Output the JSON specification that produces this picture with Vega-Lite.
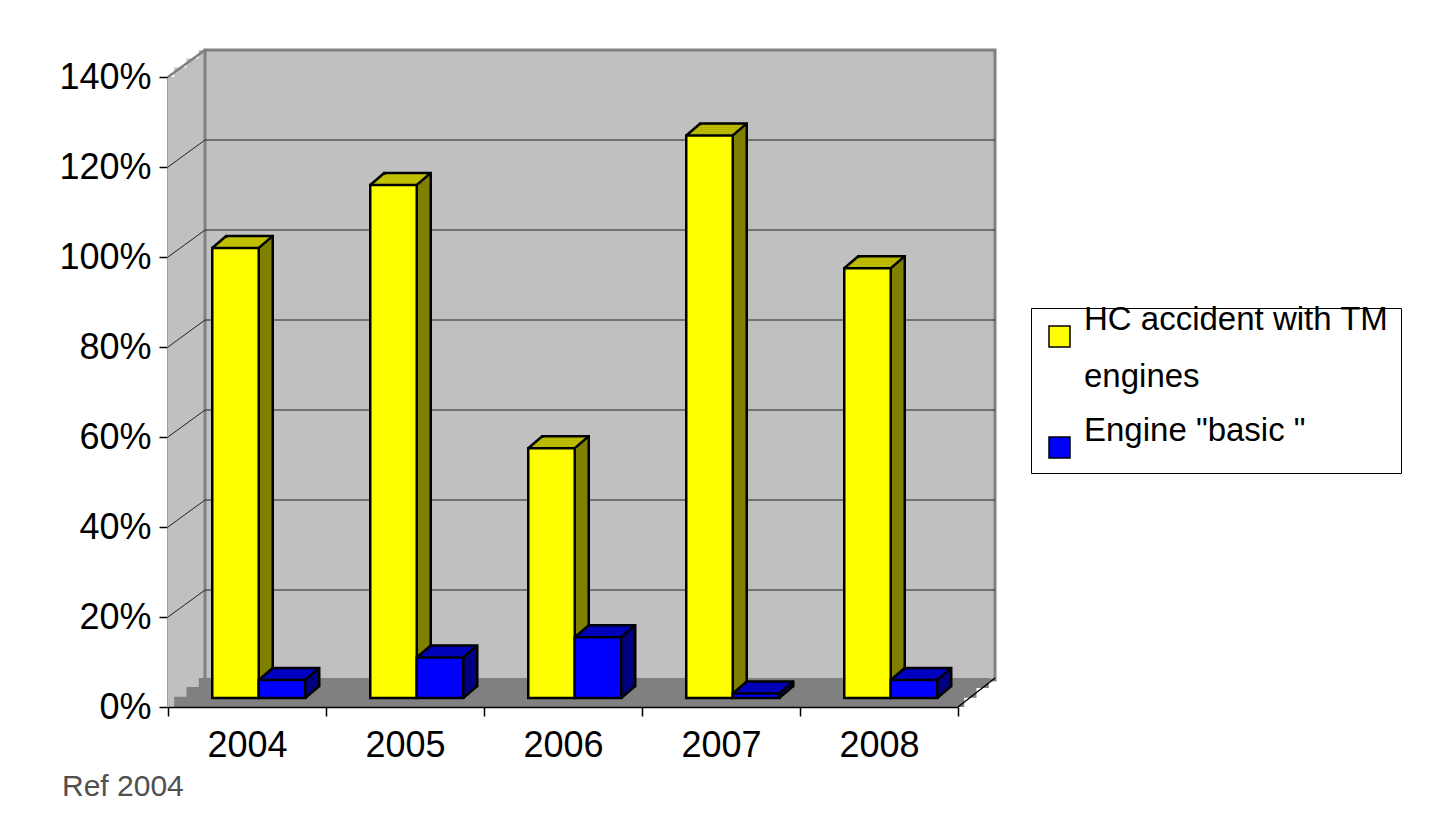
{
"$schema": "https://vega.github.io/schema/vega-lite/v6.json",
"width": 790, "height": 630,
"autosize": {"type": "none"},
"padding": {"left": 168, "top": 77, "right": 487, "bottom": 112},
"background": "white",
"title": {"text": "Ref 2004", "orient": "bottom", "anchor": "start", "frame": "group", "fontSize": 30, "fontWeight": "normal", "color": "#505050", "font": "Liberation Sans", "dx": -106, "offset": 9},
"config": {"view": {"stroke": null}, "font": "Liberation Sans"},
"datasets": {
 "bars": [
  {"year": "2004", "series": "HC accident with TM engines", "v": 1.0},
  {"year": "2005", "series": "HC accident with TM engines", "v": 1.14},
  {"year": "2006", "series": "HC accident with TM engines", "v": 0.555},
  {"year": "2007", "series": "HC accident with TM engines", "v": 1.25},
  {"year": "2008", "series": "HC accident with TM engines", "v": 0.955},
  {"year": "2004", "series": "Engine \"basic \"", "v": 0.04},
  {"year": "2005", "series": "Engine \"basic \"", "v": 0.09},
  {"year": "2006", "series": "Engine \"basic \"", "v": 0.135},
  {"year": "2007", "series": "Engine \"basic \"", "v": 0.01},
  {"year": "2008", "series": "Engine \"basic \"", "v": 0.04}
 ],
 "grid": [{"g": 0.2}, {"g": 0.4}, {"g": 0.6}, {"g": 0.8}, {"g": 1.0}, {"g": 1.2}],
 "one": [{}]
},
"data": {"name": "bars"},
"layer": [
   {"data": {"name": "one"}, "mark": {"type": "rect", "fill": "#c0c0c0", "x2Offset": 37},
    "encoding": {
     "x": {"datum": "2004", "type": "nominal", "bandPosition": 0, "scale": {"paddingInner": 0, "paddingOuter": 0}, "axis": {"title": null, "labelAngle": 0, "labelFontSize": 36, "labelFont": "Liberation Sans", "labelColor": "black", "labelPadding": 12, "tickSize": 9, "tickColor": "black", "tickWidth": 1.5, "domainColor": "black", "domainWidth": 1.5, "tickBand": "extent", "grid": false}},
     "x2": {"datum": "2004", "bandPosition": 0},
     "y": {"datum": 0, "type": "quantitative", "scale": {"domain": [0, 1.4], "nice": false}, "axis": {"title": null, "format": ".0%", "values": [0, 0.2, 0.4, 0.6, 0.8, 1.0, 1.2, 1.4], "labelFontSize": 36, "labelFont": "Liberation Sans", "labelColor": "black", "labelPadding": 8, "tickSize": 9, "tickColor": "black", "tickWidth": 1.5, "domainColor": "#808080", "domainWidth": 2.5, "grid": false}},
     "y2": {"datum": 1.4}}},
   {"data": {"name": "one"}, "mark": {"type": "rect", "fill": "#c0c0c0", "xOffset": 6.2, "x2Offset": 37, "yOffset": -9.5, "y2Offset": 0.5},
    "encoding": {"x": {"datum": "2004", "type": "nominal", "bandPosition": 0}, "x2": {"datum": "2004", "bandPosition": 0}, "y": {"datum": 1.4, "type": "quantitative"}, "y2": {"datum": 1.4}}},
   {"data": {"name": "one"}, "mark": {"type": "rect", "fill": "#c0c0c0", "xOffset": 18.5, "x2Offset": 37, "yOffset": -18.5, "y2Offset": -8.5},
    "encoding": {"x": {"datum": "2004", "type": "nominal", "bandPosition": 0}, "x2": {"datum": "2004", "bandPosition": 0}, "y": {"datum": 1.4, "type": "quantitative"}, "y2": {"datum": 1.4}}},
   {"data": {"name": "one"}, "mark": {"type": "rect", "fill": "#c0c0c0", "xOffset": 30.8, "x2Offset": 37, "yOffset": -27, "y2Offset": -17.5},
    "encoding": {"x": {"datum": "2004", "type": "nominal", "bandPosition": 0}, "x2": {"datum": "2004", "bandPosition": 0}, "y": {"datum": 1.4, "type": "quantitative"}, "y2": {"datum": 1.4}}},
   {"data": {"name": "one"}, "mark": {"type": "rect", "fill": "#c0c0c0", "stroke": "#808080", "strokeWidth": 3, "xOffset": 37, "x2Offset": 37, "yOffset": -27, "y2Offset": -27},
    "encoding": {"x": {"datum": "2004", "type": "nominal", "bandPosition": 0}, "x2": {"datum": "2008", "bandPosition": 1}, "y": {"datum": 0, "type": "quantitative"}, "y2": {"datum": 1.4}}},
   {"data": {"name": "one"}, "mark": {"type": "rect", "fill": "#808080", "xOffset": 6.2, "x2Offset": 6.2, "yOffset": -10.2, "y2Offset": 0},
    "encoding": {"x": {"datum": "2004", "type": "nominal", "bandPosition": 0}, "x2": {"datum": "2008", "bandPosition": 1}, "y": {"datum": 0, "type": "quantitative"}, "y2": {"datum": 0}}},
   {"data": {"name": "one"}, "mark": {"type": "rect", "fill": "#808080", "xOffset": 18.5, "x2Offset": 18.5, "yOffset": -19.9, "y2Offset": -9.2},
    "encoding": {"x": {"datum": "2004", "type": "nominal", "bandPosition": 0}, "x2": {"datum": "2008", "bandPosition": 1}, "y": {"datum": 0, "type": "quantitative"}, "y2": {"datum": 0}}},
   {"data": {"name": "one"}, "mark": {"type": "rect", "fill": "#808080", "xOffset": 30.8, "x2Offset": 30.8, "yOffset": -29, "y2Offset": -18.9},
    "encoding": {"x": {"datum": "2004", "type": "nominal", "bandPosition": 0}, "x2": {"datum": "2008", "bandPosition": 1}, "y": {"datum": 0, "type": "quantitative"}, "y2": {"datum": 0}}},
   {"data": {"name": "grid"},
    "mark": {"type": "rule", "color": "#222222", "strokeWidth": 1, "xOffset": 37, "x2Offset": 37, "yOffset": -27},
    "encoding": {"x": {"datum": "2004", "type": "nominal", "bandPosition": 0}, "x2": {"datum": "2008", "bandPosition": 1}, "y": {"field": "g", "type": "quantitative"}}},
   {"data": {"name": "grid"},
    "mark": {"type": "rule", "color": "#222222", "strokeWidth": 1, "x2Offset": 37, "y2Offset": -27},
    "encoding": {"x": {"datum": "2004", "type": "nominal", "bandPosition": 0}, "x2": {"datum": "2004", "bandPosition": 0}, "y": {"field": "g", "type": "quantitative"}, "y2": {"field": "g"}}},
   {"data": {"name": "one"}, "mark": {"type": "rule", "color": "#808080", "strokeWidth": 2.5, "x2Offset": 37, "y2Offset": -27},
    "encoding": {"x": {"datum": "2004", "type": "nominal", "bandPosition": 0}, "x2": {"datum": "2004", "bandPosition": 0}, "y": {"datum": 1.4, "type": "quantitative"}, "y2": {"datum": 1.4}}},
   {"data": {"name": "one"}, "mark": {"type": "rule", "color": "#000000", "strokeWidth": 1.5, "x2Offset": 37, "y2Offset": -29},
    "encoding": {"x": {"datum": "2008", "type": "nominal", "bandPosition": 1}, "x2": {"datum": "2008", "bandPosition": 1}, "y": {"datum": 0, "type": "quantitative"}, "y2": {"datum": 0}}},

    {"transform": [{"filter": "datum.series == 'HC accident with TM engines'"}], "mark": {"type": "bar", "width": 46.5, "fill": "#808000", "xOffset": 2.5, "yOffset": -21, "y2Offset": -21},
     "encoding": {"x": {"field": "year", "type": "nominal"}, "y": {"field": "v", "type": "quantitative"}, "y2": {"datum": 0}}},
    {"transform": [{"filter": "datum.series == 'HC accident with TM engines'"}], "mark": {"type": "bar", "width": 46.5, "fill": "#c0c000", "xOffset": 2.5, "yOffset": -21, "y2Offset": -18.5},
     "encoding": {"x": {"field": "year", "type": "nominal"}, "y": {"field": "v", "type": "quantitative"}, "y2": {"field": "v"}}},
    {"transform": [{"filter": "datum.series == 'HC accident with TM engines'"}], "mark": {"type": "bar", "width": 46.5, "fillOpacity": 0, "stroke": "black", "strokeWidth": 2.5, "xOffset": 2.5, "yOffset": -21, "y2Offset": -21},
     "encoding": {"x": {"field": "year", "type": "nominal"}, "y": {"field": "v", "type": "quantitative"}, "y2": {"datum": 0}}},
    {"transform": [{"filter": "datum.series == 'HC accident with TM engines'"}], "mark": {"type": "bar", "width": 46.5, "fill": "#808000", "xOffset": 0.17, "yOffset": -19, "y2Offset": -19},
     "encoding": {"x": {"field": "year", "type": "nominal"}, "y": {"field": "v", "type": "quantitative"}, "y2": {"datum": 0}}},
    {"transform": [{"filter": "datum.series == 'HC accident with TM engines'"}], "mark": {"type": "bar", "width": 46.5, "fill": "#c0c000", "xOffset": 0.17, "yOffset": -19, "y2Offset": -16.5},
     "encoding": {"x": {"field": "year", "type": "nominal"}, "y": {"field": "v", "type": "quantitative"}, "y2": {"field": "v"}}},
    {"transform": [{"filter": "datum.series == 'HC accident with TM engines'"}], "mark": {"type": "bar", "width": 46.5, "fill": "#808000", "xOffset": -2.17, "yOffset": -17, "y2Offset": -17},
     "encoding": {"x": {"field": "year", "type": "nominal"}, "y": {"field": "v", "type": "quantitative"}, "y2": {"datum": 0}}},
    {"transform": [{"filter": "datum.series == 'HC accident with TM engines'"}], "mark": {"type": "bar", "width": 46.5, "fill": "#c0c000", "xOffset": -2.17, "yOffset": -17, "y2Offset": -14.5},
     "encoding": {"x": {"field": "year", "type": "nominal"}, "y": {"field": "v", "type": "quantitative"}, "y2": {"field": "v"}}},
    {"transform": [{"filter": "datum.series == 'HC accident with TM engines'"}], "mark": {"type": "bar", "width": 46.5, "fill": "#808000", "xOffset": -4.5, "yOffset": -15, "y2Offset": -15},
     "encoding": {"x": {"field": "year", "type": "nominal"}, "y": {"field": "v", "type": "quantitative"}, "y2": {"datum": 0}}},
    {"transform": [{"filter": "datum.series == 'HC accident with TM engines'"}], "mark": {"type": "bar", "width": 46.5, "fill": "#c0c000", "xOffset": -4.5, "yOffset": -15, "y2Offset": -12.5},
     "encoding": {"x": {"field": "year", "type": "nominal"}, "y": {"field": "v", "type": "quantitative"}, "y2": {"field": "v"}}},
    {"transform": [{"filter": "datum.series == 'HC accident with TM engines'"}], "mark": {"type": "bar", "width": 46.5, "fill": "#808000", "xOffset": -6.83, "yOffset": -13, "y2Offset": -13},
     "encoding": {"x": {"field": "year", "type": "nominal"}, "y": {"field": "v", "type": "quantitative"}, "y2": {"datum": 0}}},
    {"transform": [{"filter": "datum.series == 'HC accident with TM engines'"}], "mark": {"type": "bar", "width": 46.5, "fill": "#c0c000", "xOffset": -6.83, "yOffset": -13, "y2Offset": -10.5},
     "encoding": {"x": {"field": "year", "type": "nominal"}, "y": {"field": "v", "type": "quantitative"}, "y2": {"field": "v"}}},
    {"transform": [{"filter": "datum.series == 'HC accident with TM engines'"}], "mark": {"type": "bar", "width": 46.5, "fill": "#808000", "xOffset": -9.17, "yOffset": -11, "y2Offset": -11},
     "encoding": {"x": {"field": "year", "type": "nominal"}, "y": {"field": "v", "type": "quantitative"}, "y2": {"datum": 0}}},
    {"transform": [{"filter": "datum.series == 'HC accident with TM engines'"}], "mark": {"type": "bar", "width": 46.5, "fill": "#c0c000", "xOffset": -9.17, "yOffset": -11, "y2Offset": -8.5},
     "encoding": {"x": {"field": "year", "type": "nominal"}, "y": {"field": "v", "type": "quantitative"}, "y2": {"field": "v"}}},
    {"transform": [{"filter": "datum.series == 'HC accident with TM engines'"}], "mark": {"type": "bar", "width": 46.5, "stroke": "black", "strokeWidth": 2.5, "xOffset": -11.5, "yOffset": -9, "y2Offset": -9},
     "encoding": {
      "x": {"field": "year", "type": "nominal"},
      "y": {"field": "v", "type": "quantitative"},
      "y2": {"datum": 0},
      "color": {"field": "series", "type": "nominal", "scale": {"domain": ["HC accident with TM engines", "Engine \"basic \""], "range": ["#ffff00", "#0000ff"]},
       "legend": {"title": null, "orient": "none", "legendX": 863, "legendY": 231, "direction": "vertical", "symbolType": "square", "symbolSize": 441, "symbolStrokeColor": "black", "symbolStrokeWidth": 1.5, "labelFontSize": 33, "labelFont": "Liberation Sans", "labelColor": "black", "labelLimit": 1000, "labelBaseline": "bottom", "labelExpr": "datum.value == 'HC accident with TM engines' ? ['HC accident with TM', 'engines'] : datum.label", "strokeColor": "black", "fillColor": "white", "padding": 12, "rowPadding": 20, "labelOffset": 8,
        "encode": {"labels": {"update": {"lineHeight": {"value": 57}}}}}}}},
    {"transform": [{"filter": "datum.series == 'HC accident with TM engines'"}], "mark": {"type": "rule", "color": "black", "strokeWidth": 2.5, "xOffset": -34.75, "x2Offset": -20.75, "yOffset": -9, "y2Offset": -21},
     "encoding": {"x": {"field": "year", "type": "nominal"}, "x2": {"field": "year"}, "y": {"field": "v", "type": "quantitative"}, "y2": {"field": "v"}}},
    {"transform": [{"filter": "datum.series == 'HC accident with TM engines'"}], "mark": {"type": "rule", "color": "black", "strokeWidth": 2.5, "xOffset": 11.75, "x2Offset": 25.75, "yOffset": -9, "y2Offset": -21},
     "encoding": {"x": {"field": "year", "type": "nominal"}, "x2": {"field": "year"}, "y": {"field": "v", "type": "quantitative"}, "y2": {"field": "v"}}},

    {"transform": [{"filter": "datum.series != 'HC accident with TM engines'"}], "mark": {"type": "bar", "width": 46.5, "fill": "#000080", "xOffset": 49, "yOffset": -21, "y2Offset": -21},
     "encoding": {"x": {"field": "year", "type": "nominal"}, "y": {"field": "v", "type": "quantitative"}, "y2": {"datum": 0}}},
    {"transform": [{"filter": "datum.series != 'HC accident with TM engines'"}], "mark": {"type": "bar", "width": 46.5, "fill": "#0000c0", "xOffset": 49, "yOffset": -21, "y2Offset": -18.5},
     "encoding": {"x": {"field": "year", "type": "nominal"}, "y": {"field": "v", "type": "quantitative"}, "y2": {"field": "v"}}},
    {"transform": [{"filter": "datum.series != 'HC accident with TM engines'"}], "mark": {"type": "bar", "width": 46.5, "fillOpacity": 0, "stroke": "black", "strokeWidth": 2.5, "xOffset": 49, "yOffset": -21, "y2Offset": -21},
     "encoding": {"x": {"field": "year", "type": "nominal"}, "y": {"field": "v", "type": "quantitative"}, "y2": {"datum": 0}}},
    {"transform": [{"filter": "datum.series != 'HC accident with TM engines'"}], "mark": {"type": "bar", "width": 46.5, "fill": "#000080", "xOffset": 46.67, "yOffset": -19, "y2Offset": -19},
     "encoding": {"x": {"field": "year", "type": "nominal"}, "y": {"field": "v", "type": "quantitative"}, "y2": {"datum": 0}}},
    {"transform": [{"filter": "datum.series != 'HC accident with TM engines'"}], "mark": {"type": "bar", "width": 46.5, "fill": "#0000c0", "xOffset": 46.67, "yOffset": -19, "y2Offset": -16.5},
     "encoding": {"x": {"field": "year", "type": "nominal"}, "y": {"field": "v", "type": "quantitative"}, "y2": {"field": "v"}}},
    {"transform": [{"filter": "datum.series != 'HC accident with TM engines'"}], "mark": {"type": "bar", "width": 46.5, "fill": "#000080", "xOffset": 44.33, "yOffset": -17, "y2Offset": -17},
     "encoding": {"x": {"field": "year", "type": "nominal"}, "y": {"field": "v", "type": "quantitative"}, "y2": {"datum": 0}}},
    {"transform": [{"filter": "datum.series != 'HC accident with TM engines'"}], "mark": {"type": "bar", "width": 46.5, "fill": "#0000c0", "xOffset": 44.33, "yOffset": -17, "y2Offset": -14.5},
     "encoding": {"x": {"field": "year", "type": "nominal"}, "y": {"field": "v", "type": "quantitative"}, "y2": {"field": "v"}}},
    {"transform": [{"filter": "datum.series != 'HC accident with TM engines'"}], "mark": {"type": "bar", "width": 46.5, "fill": "#000080", "xOffset": 42, "yOffset": -15, "y2Offset": -15},
     "encoding": {"x": {"field": "year", "type": "nominal"}, "y": {"field": "v", "type": "quantitative"}, "y2": {"datum": 0}}},
    {"transform": [{"filter": "datum.series != 'HC accident with TM engines'"}], "mark": {"type": "bar", "width": 46.5, "fill": "#0000c0", "xOffset": 42, "yOffset": -15, "y2Offset": -12.5},
     "encoding": {"x": {"field": "year", "type": "nominal"}, "y": {"field": "v", "type": "quantitative"}, "y2": {"field": "v"}}},
    {"transform": [{"filter": "datum.series != 'HC accident with TM engines'"}], "mark": {"type": "bar", "width": 46.5, "fill": "#000080", "xOffset": 39.67, "yOffset": -13, "y2Offset": -13},
     "encoding": {"x": {"field": "year", "type": "nominal"}, "y": {"field": "v", "type": "quantitative"}, "y2": {"datum": 0}}},
    {"transform": [{"filter": "datum.series != 'HC accident with TM engines'"}], "mark": {"type": "bar", "width": 46.5, "fill": "#0000c0", "xOffset": 39.67, "yOffset": -13, "y2Offset": -10.5},
     "encoding": {"x": {"field": "year", "type": "nominal"}, "y": {"field": "v", "type": "quantitative"}, "y2": {"field": "v"}}},
    {"transform": [{"filter": "datum.series != 'HC accident with TM engines'"}], "mark": {"type": "bar", "width": 46.5, "fill": "#000080", "xOffset": 37.33, "yOffset": -11, "y2Offset": -11},
     "encoding": {"x": {"field": "year", "type": "nominal"}, "y": {"field": "v", "type": "quantitative"}, "y2": {"datum": 0}}},
    {"transform": [{"filter": "datum.series != 'HC accident with TM engines'"}], "mark": {"type": "bar", "width": 46.5, "fill": "#0000c0", "xOffset": 37.33, "yOffset": -11, "y2Offset": -8.5},
     "encoding": {"x": {"field": "year", "type": "nominal"}, "y": {"field": "v", "type": "quantitative"}, "y2": {"field": "v"}}},
    {"transform": [{"filter": "datum.series != 'HC accident with TM engines'"}], "mark": {"type": "bar", "width": 46.5, "fill": "#0000ff", "stroke": "black", "strokeWidth": 2.5, "xOffset": 35, "yOffset": -9, "y2Offset": -9},
     "encoding": {"x": {"field": "year", "type": "nominal"}, "y": {"field": "v", "type": "quantitative"}, "y2": {"datum": 0}}},
    {"transform": [{"filter": "datum.series != 'HC accident with TM engines'"}], "mark": {"type": "rule", "color": "black", "strokeWidth": 2.5, "xOffset": 11.75, "x2Offset": 25.75, "yOffset": -9, "y2Offset": -21},
     "encoding": {"x": {"field": "year", "type": "nominal"}, "x2": {"field": "year"}, "y": {"field": "v", "type": "quantitative"}, "y2": {"field": "v"}}},
    {"transform": [{"filter": "datum.series != 'HC accident with TM engines'"}], "mark": {"type": "rule", "color": "black", "strokeWidth": 2.5, "xOffset": 58.25, "x2Offset": 72.25, "yOffset": -9, "y2Offset": -21},
     "encoding": {"x": {"field": "year", "type": "nominal"}, "x2": {"field": "year"}, "y": {"field": "v", "type": "quantitative"}, "y2": {"field": "v"}}},
    {"transform": [{"filter": "datum.series != 'HC accident with TM engines'"}], "mark": {"type": "rule", "color": "black", "strokeWidth": 2.5, "xOffset": 58.25, "x2Offset": 72.25, "yOffset": -9, "y2Offset": -21},
     "encoding": {"x": {"field": "year", "type": "nominal"}, "x2": {"field": "year"}, "y": {"datum": 0, "type": "quantitative"}, "y2": {"datum": 0}}}
]
}
